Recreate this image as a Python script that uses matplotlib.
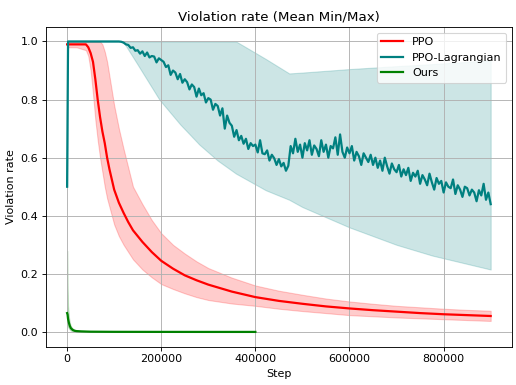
import numpy as np
import matplotlib.pyplot as plt

# PPO (mean with min/max band)
ppo_steps = [0, 2000, 20000, 40000, 45000, 50000, 55000, 60000, 65000, 70000,
             75000, 80000, 85000, 90000, 100000, 110000, 120000, 130000, 140000,
             160000, 180000, 200000, 225000, 250000, 275000, 300000, 350000,
             400000, 450000, 500000, 550000, 600000, 650000, 700000, 750000,
             800000, 850000, 900000]
ppo_mean = [0.99, 0.99, 0.99, 0.99, 0.98, 0.96, 0.93, 0.87, 0.80, 0.74,
            0.69, 0.65, 0.60, 0.56, 0.49, 0.445, 0.41, 0.378, 0.35,
            0.31, 0.275, 0.245, 0.218, 0.195, 0.178, 0.163, 0.139,
            0.12, 0.107, 0.097, 0.088, 0.081, 0.075, 0.070, 0.065,
            0.061, 0.058, 0.055]
ppo_max = [1.0, 1.0, 1.0, 1.0, 1.0, 1.0, 1.0, 1.0, 1.0, 1.0,
           0.99, 0.965, 0.93, 0.88, 0.78, 0.70, 0.63, 0.565, 0.50,
           0.44, 0.385, 0.34, 0.30, 0.27, 0.243, 0.22, 0.187,
           0.16, 0.142, 0.128, 0.115, 0.105, 0.097, 0.09, 0.085,
           0.08, 0.076, 0.073]
ppo_min = [0.98, 0.98, 0.98, 0.97, 0.95, 0.90, 0.82, 0.73, 0.66, 0.60,
           0.55, 0.50, 0.46, 0.43, 0.37, 0.33, 0.30, 0.275, 0.25,
           0.215, 0.188, 0.165, 0.148, 0.133, 0.12, 0.11, 0.098,
           0.09, 0.08, 0.072, 0.065, 0.058, 0.054, 0.05, 0.047,
           0.044, 0.041, 0.038]

# PPO-Lagrangian
lag_steps = [0, 2000] + list(range(100000, 900001, 5000))
lag_mean = [0.5, 1.0,
            1.0, 1.0, 1.0, 0.999, 0.996, 0.99, 0.988, 0.978, 0.98, 0.968,
            0.97, 0.958, 0.966, 0.95, 0.962, 0.945, 0.95, 0.948, 0.928, 0.942,
            0.936, 0.93, 0.912, 0.918, 0.885, 0.9, 0.893, 0.87, 0.888, 0.858,
            0.87, 0.86, 0.835, 0.852, 0.843, 0.81, 0.838, 0.815, 0.822, 0.79,
            0.805, 0.8, 0.765, 0.785, 0.778, 0.745, 0.77, 0.7, 0.745, 0.72,
            0.71, 0.672, 0.695, 0.66, 0.675, 0.648, 0.665, 0.63, 0.65, 0.64,
            0.645, 0.618, 0.66, 0.615, 0.612, 0.625, 0.59, 0.61, 0.598, 0.575,
            0.595, 0.57, 0.582, 0.555, 0.572, 0.64, 0.615, 0.665, 0.62, 0.645,
            0.6, 0.65, 0.625, 0.66, 0.61, 0.642, 0.63, 0.605, 0.66, 0.62,
            0.645, 0.6, 0.64, 0.632, 0.67, 0.61, 0.68, 0.62, 0.6, 0.635,
            0.615, 0.64, 0.59, 0.62, 0.605, 0.575, 0.615, 0.6, 0.585, 0.61,
            0.575, 0.6, 0.565, 0.59, 0.555, 0.6, 0.57, 0.545, 0.58, 0.56,
            0.55, 0.575, 0.535, 0.56, 0.54, 0.565, 0.52, 0.548, 0.535, 0.555,
            0.51, 0.54, 0.525, 0.505, 0.545, 0.515, 0.49, 0.53, 0.51, 0.52,
            0.48, 0.515, 0.5, 0.495, 0.525, 0.475, 0.505, 0.49, 0.465, 0.5,
            0.495, 0.47, 0.49, 0.48, 0.45, 0.488, 0.47, 0.51, 0.455, 0.48,
            0.44]
lag_band_steps = [0, 2000, 119000, 150000, 196000, 240000, 281000, 320000, 359000,
                  422000, 472000, 500000, 600000, 700000, 776000, 900000]
lag_max = [0.5, 1.0, 1.0, 1.0, 1.0, 1.0, 1.0, 1.0, 1.0,
           0.94, 0.89, 0.893, 0.905, 0.915, 0.922, 0.935]
lag_min = [0.5, 1.0, 1.0, 0.92, 0.80, 0.715, 0.645, 0.59, 0.545,
           0.488, 0.455, 0.43, 0.36, 0.30, 0.263, 0.215]

# Ours
ours_steps = [0, 1000, 2000, 4000, 6000, 8000, 12000, 16000, 20000, 30000,
              50000, 100000, 200000, 300000, 400000]
ours_mean = [0.065, 0.06, 0.045, 0.03, 0.02, 0.013, 0.007, 0.004, 0.003, 0.002,
             0.001, 0.0005, 0.0003, 0.0002, 0.0002]
ours_max = [0.28, 0.15, 0.09, 0.05, 0.03, 0.02, 0.012, 0.008, 0.006, 0.004,
            0.002, 0.001, 0.0005, 0.0004, 0.0004]
ours_min = [0.03, 0.025, 0.018, 0.012, 0.008, 0.005, 0.002, 0.001, 0.0, 0.0,
            0.0, 0.0, 0.0, 0.0, 0.0]

fig = plt.figure(figsize=(6.45, 4.8125), dpi=80)
ax = fig.add_axes([0.089, 0.100, 0.903, 0.830])

ax.plot(ppo_steps, ppo_mean, color="red", linewidth=2, label="PPO")
ax.fill_between(ppo_steps, ppo_min, ppo_max, color="red", alpha=0.2)

ax.plot(lag_steps, lag_mean, color="teal", linewidth=2, label="PPO-Lagrangian")
ax.fill_between(lag_band_steps, lag_min, lag_max, color="teal", alpha=0.2)

ax.plot(ours_steps, ours_mean, color="green", linewidth=2, label="Ours")
ax.fill_between(ours_steps, ours_min, ours_max, color="green", alpha=0.2)

ax.set_title("Violation rate (Mean Min/Max)")
ax.set_xlabel("Step")
ax.set_ylabel("Violation rate")
ax.grid(True)
ax.legend(loc="upper right")

fig.savefig("out.png", dpi=80)
